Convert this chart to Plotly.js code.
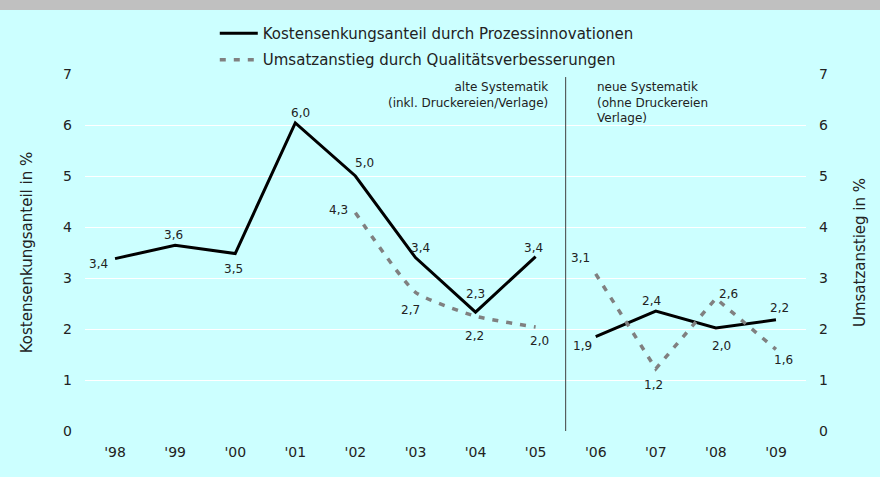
<!DOCTYPE html>
<html>
<head>
<meta charset="utf-8">
<script src="https://cdn.plot.ly/plotly-3.0.1.min.js"></script>
<style>
html,body{margin:0;padding:0;background:#ccffff;}
#chart{width:880px;height:477px;}
</style>
</head>
<body>
<div id="chart"></div>
<script>
// ---- data ----
const years = ["'98","'99","'00","'01","'02","'03","'04","'05","'06","'07","'08","'09"];
const kosten = [3.38, 3.64, 3.48, 6.04, 5.0, 3.4, 2.33, 3.42, 1.85, 2.35, 2.02, 2.18];
const kostenLabels = ["3,4","3,6","3,5","6,0","5,0","3,4","2,3","3,4","1,9","2,4","2,0","2,2"];
const umsatz = [null, null, null, null, 4.28, 2.72, 2.25, 2.04, 3.08, 1.22, 2.6, 1.6];
const umsatzLabels = ["","","","","4,3","2,7","2,2","2,0","3,1","1,2","2,6","1,6"];
const splitIndex = 8; // '06 starts new Systematik
const seriesNames = ["Kostensenkungsanteil durch Prozessinnovationen", "Umsatzanstieg durch Qualitätsverbesserungen"];
const yTicks = [0,1,2,3,4,5,6,7];
const noteOld = "alte Systematik<br>(inkl. Druckereien/Verlage)";
const noteNew = "neue Systematik<br>(ohne Druckereien<br>Verlage)";

// ---- label offsets (px) ----
const kostenOff = [[-17,-5],[-2,10],[-2,-15],[5,10],[9,13],[5,10],[0,18],[-2,9],[-13,-9],[-4,10],[6,-18],[4,12]];
const umsatzOff = [null,null,null,null,[-17,3],[-5,-18],[-1,-20],[4,-14],[-15,16],[-2,-16],[13,4],[8,-11]];

const FONT = "DejaVu Sans, Verdana, sans-serif";
const GRAY = "#808080";

function seg(arr, a, b){ return arr.slice(a, b); }

const traces = [
  {x: seg(years,0,splitIndex), y: seg(kosten,0,splitIndex), name: seriesNames[0], type:'scatter', mode:'lines',
   line:{color:'#000', width:3}, legendgroup:'k', showlegend:true, yaxis:'y'},
  {x: seg(years,splitIndex), y: seg(kosten,splitIndex), name: seriesNames[0], type:'scatter', mode:'lines',
   line:{color:'#000', width:3}, legendgroup:'k', showlegend:false, yaxis:'y'},
  {x: seg(years,0,splitIndex), y: seg(umsatz,0,splitIndex), name: seriesNames[1], type:'scatter', mode:'lines',
   line:{color:GRAY, width:3.5, dash:'6px,8px', shape:'spline', smoothing:0.5}, legendgroup:'u', showlegend:true, yaxis:'y2', connectgaps:false},
  {x: seg(years,splitIndex), y: seg(umsatz,splitIndex), name: seriesNames[1], type:'scatter', mode:'lines',
   line:{color:GRAY, width:3.5, dash:'6px,8px'}, legendgroup:'u', showlegend:false, yaxis:'y2'}
];

const LBL = {family:FONT, size:12, color:'#222'};
const annotations = [];
years.forEach((yr,i)=>{
  if (kosten[i] != null) annotations.push({x:yr, y:kosten[i], xref:'x', yref:'y', text:kostenLabels[i], showarrow:false,
    xshift:kostenOff[i][0], yshift:kostenOff[i][1], font:LBL});
  if (umsatz[i] != null) annotations.push({x:yr, y:umsatz[i], xref:'x', yref:'y2', text:umsatzLabels[i], showarrow:false,
    xshift:umsatzOff[i][0], yshift:umsatzOff[i][1], font:LBL});
});
annotations.push({xref:'paper', yref:'paper', x:0.645, y:0.99, xanchor:'right', yanchor:'top', align:'right',
  text:noteOld, showarrow:false, font:LBL});
annotations.push({xref:'paper', yref:'paper', x:0.707, y:0.99, xanchor:'left', yanchor:'top', align:'left',
  text:noteNew, showarrow:false, font:LBL});

const layout = {
  width:880, height:477,
  margin:{l:85, r:74, t:74, b:46},
  paper_bgcolor:'#ccffff', plot_bgcolor:'#ccffff',
  font:{family:FONT, size:14, color:'#222'},
  showlegend:true,
  legend:{x:0.18, y:1.16, xanchor:'left', yanchor:'top', orientation:'v', bgcolor:'rgba(0,0,0,0)',
    font:{family:FONT, size:15, color:'#222'}, tracegroupgap:4, itemwidth:38},
  xaxis:{type:'category', range:[-0.5, 11.5], showgrid:false, zeroline:false, showline:false, ticks:'',
    ticklabelstandoff:11, tickfont:{size:14}},
  yaxis:{range:[0,7], tickvals:yTicks, showgrid:true, gridcolor:'#ffffff', gridwidth:1, zeroline:false, showline:false,
    ticks:'', ticklabelstandoff:12, tickfont:{size:14}, title:{text:'Kostensenkungsanteil in %', font:{size:15}, standoff:26}},
  yaxis2:{range:[0,7], tickvals:yTicks, overlaying:'y', side:'right', showgrid:false, zeroline:false, showline:false,
    ticks:'', ticklabelstandoff:12, tickfont:{size:14}, title:{text:'Umsatzanstieg in %', font:{size:15}, standoff:27}},
  shapes:[
    {type:'line', xref:'x', yref:'y', x0:7.5, x1:7.5, y0:0, y1:6.94, line:{color:'#404040', width:1}},
    {type:'rect', xref:'paper', yref:'paper', x0:-0.2, x1:1.2, y0:1+64/357, y1:1.3, fillcolor:'#c0c0c0', line:{width:0}, layer:'below'}
  ],
  annotations: annotations
};

Plotly.newPlot('chart', traces, layout, {displayModeBar:false, staticPlot:true});
</script>
</body>
</html>
